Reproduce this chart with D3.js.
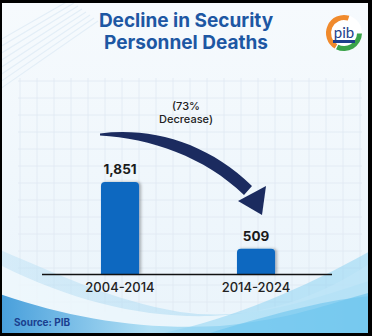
<!DOCTYPE html>
<html><head><meta charset="utf-8">
<script src="https://cdn.jsdelivr.net/npm/d3@7"></script>
<style>html,body{margin:0;padding:0;background:#000;}svg{display:block;}</style>
</head><body>
<script>
const categories = ["2004-2014", "2014-2024"];
const values = [1851, 509];
const valueLabels = ["1,851", "509"];
const titleLines = ["Decline in Security", "Personnel Deaths"];
const annotationLines = ["(73%", "Decrease)"];
const sourceText = "Source: PIB";

const W = 372, H = 336;
const svg = d3.select("body").append("svg").attr("width", W).attr("height", H);
const defs = svg.append("defs");

svg.append("rect").attr("width", W).attr("height", H).attr("fill", "#000");
const bg = defs.append("linearGradient").attr("id", "bg").attr("x1", 0).attr("y1", 0).attr("x2", 0).attr("y2", 1);
bg.append("stop").attr("offset", 0).attr("stop-color", "#f6fafd");
bg.append("stop").attr("offset", 1).attr("stop-color", "#eaf4fb");
const inner = svg.append("g");
defs.append("clipPath").attr("id", "clip").append("rect").attr("x", 2).attr("y", 3).attr("width", 366).attr("height", 330);
inner.attr("clip-path", "url(#clip)");
inner.append("rect").attr("x", 2).attr("y", 3).attr("width", 366).attr("height", 330).attr("fill", "url(#bg)");

for (let i = 0; i < 8; i++) {
  inner.append("line").attr("x1", 0).attr("y1", 40 + i * 7).attr("x2", 70 + i * 4).attr("y2", 0 + i * 3)
    .attr("stroke", "#e3eef7").attr("stroke-width", 1.2);
}

const grid = inner.append("g").attr("stroke", "#dfe9f2").attr("stroke-width", 0.8);
for (let x = 20; x <= 360; x += 17) grid.append("line").attr("x1", x).attr("x2", x).attr("y1", 78).attr("y2", 312);
for (let y = 81; y <= 312; y += 17) grid.append("line").attr("x1", 18).attr("x2", 362).attr("y1", y).attr("y2", y);

const wg1 = defs.append("linearGradient").attr("id", "wave1").attr("x1", 0).attr("y1", 0).attr("x2", 1).attr("y2", 0);
wg1.append("stop").attr("offset", 0).attr("stop-color", "#bfe2f5");
wg1.append("stop").attr("offset", 1).attr("stop-color", "#8fd0f0");
inner.append("path").attr("d", "M0,250 C60,275 110,300 180,312 C250,322 310,300 372,280 L372,336 L0,336 Z")
  .attr("fill", "url(#wave1)").attr("opacity", 0.5);
inner.append("path").attr("d", "M0,265 C70,300 140,318 210,316 C280,313 330,290 372,262 L372,336 L0,336 Z")
  .attr("fill", "#ffffff").attr("opacity", 0.6);
const wg2 = defs.append("linearGradient").attr("id", "wave2").attr("x1", 0).attr("y1", 0).attr("x2", 1).attr("y2", 0);
wg2.append("stop").attr("offset", 0).attr("stop-color", "#2a8fd5");
wg2.append("stop").attr("offset", 0.4).attr("stop-color", "#a6dbf3");
wg2.append("stop").attr("offset", 1).attr("stop-color", "#65c3ed");
inner.append("path").attr("d", "M0,294 C70,318 140,330 220,326 C290,320 335,302 372,292 L372,336 L0,336 Z")
  .attr("fill", "url(#wave2)").attr("opacity", 0.85);
inner.append("path").attr("d", "M150,336 C230,320 300,290 372,250 L372,336 Z")
  .attr("fill", "#8fd3f2").attr("opacity", 0.55);
inner.append("path").attr("d", "M200,336 C260,318 320,300 372,296 L372,336 Z")
  .attr("fill", "#6cc4ee").attr("opacity", 0.6);

const title = svg.append("text").attr("text-anchor", "middle").attr("fill", "#1d57a3")
  .attr("font-family", "Inter, 'Open Sans', sans-serif").attr("font-weight", 700).attr("font-size", 19);
titleLines.forEach((t, i) => title.append("tspan").attr("x", 186).attr("y", 27 + i * 21.5).text(t));

const logo = svg.append("g").attr("transform", "translate(344,33)");
logo.append("circle").attr("r", 18).attr("fill", "#ffffff");
logo.append("path").attr("d", d3.arc()({innerRadius: 13, outerRadius: 18, startAngle: -2.6, endAngle: 0.3})).attr("fill", "#f08a2c");
logo.append("path").attr("d", d3.arc()({innerRadius: 13, outerRadius: 18, startAngle: 1.6, endAngle: 3.6})).attr("fill", "#3aa34a");
logo.append("text").attr("text-anchor", "middle").attr("y", 5).attr("font-family", "Lato, sans-serif").attr("font-size", 15)
  .attr("fill", "#1d3f8c").text("pib");
logo.append("rect").attr("x", -11).attr("y", 7).attr("width", 22).attr("height", 3).attr("fill", "#1d3f8c");

const x = d3.scaleBand().domain(categories).range([52, 324]).paddingInner(0.72).paddingOuter(0.36);
const y = d3.scaleLinear().domain([0, 1851]).range([274, 182]);

const shadow = defs.append("filter").attr("id", "sh").attr("x", -0.2).attr("y", -0.2).attr("width", 1.5).attr("height", 1.4);
shadow.append("feDropShadow").attr("dx", 2).attr("dy", 0).attr("stdDeviation", 1.5).attr("flood-color", "#000").attr("flood-opacity", 0.3);
const r = 4;
svg.append("g").selectAll("path").data(categories).join("path")
  .attr("filter", "url(#sh)")
  .attr("fill", "#0a67c0")
  .attr("d", (d, i) => {
    const x0 = x(d), x1 = x(d) + x.bandwidth(), y0 = y(values[i]), yb = y(0);
    return `M${x0},${yb} L${x0},${y0 + r} Q${x0},${y0} ${x0 + r},${y0} L${x1 - r},${y0} Q${x1},${y0} ${x1},${y0 + r} L${x1},${yb} Z`;
  });

svg.append("g").selectAll("text").data(categories).join("text")
  .attr("x", d => x(d) + x.bandwidth() / 2)
  .attr("y", (d, i) => y(values[i]) - 8)
  .attr("text-anchor", "middle").attr("font-family", "Inter, sans-serif").attr("font-weight", 700)
  .attr("font-size", 13.5).attr("fill", "#1a1a1a")
  .text((d, i) => valueLabels[i]);

const axis = svg.append("g").attr("transform", `translate(0,${y(0)})`)
  .call(d3.axisBottom(x).tickSize(0).tickPadding(9));
axis.select(".domain").attr("d", "M42,0.5H332").attr("stroke", "#111").attr("stroke-width", 1.6);
axis.selectAll("text").attr("font-family", "Inter, sans-serif").attr("font-weight", 500)
  .attr("font-size", 13).attr("fill", "#222");

const arrowCol = "#1b2b5f";
svg.append("path")
  .attr("d", "M100,133.5 C152,127 208,143 252,186 L244,195 C205,157 150,138 100,135.5 Z")
  .attr("fill", arrowCol);
svg.append("path").attr("d", "M238,201 L266,186 L262,215 Z").attr("fill", arrowCol);

const ann = svg.append("text").attr("text-anchor", "middle").attr("fill", "#222")
  .attr("font-family", "Inter, sans-serif").attr("font-size", 11).attr("font-weight", 500);
annotationLines.forEach((t, i) => ann.append("tspan").attr("x", 186).attr("y", 110 + i * 13).text(t));

svg.append("text").attr("x", 14).attr("y", 326).attr("fill", "#1b3f8f")
  .attr("font-family", "Inter, sans-serif").attr("font-weight", 700).attr("font-size", 10).text(sourceText);
</script>
</body></html>
